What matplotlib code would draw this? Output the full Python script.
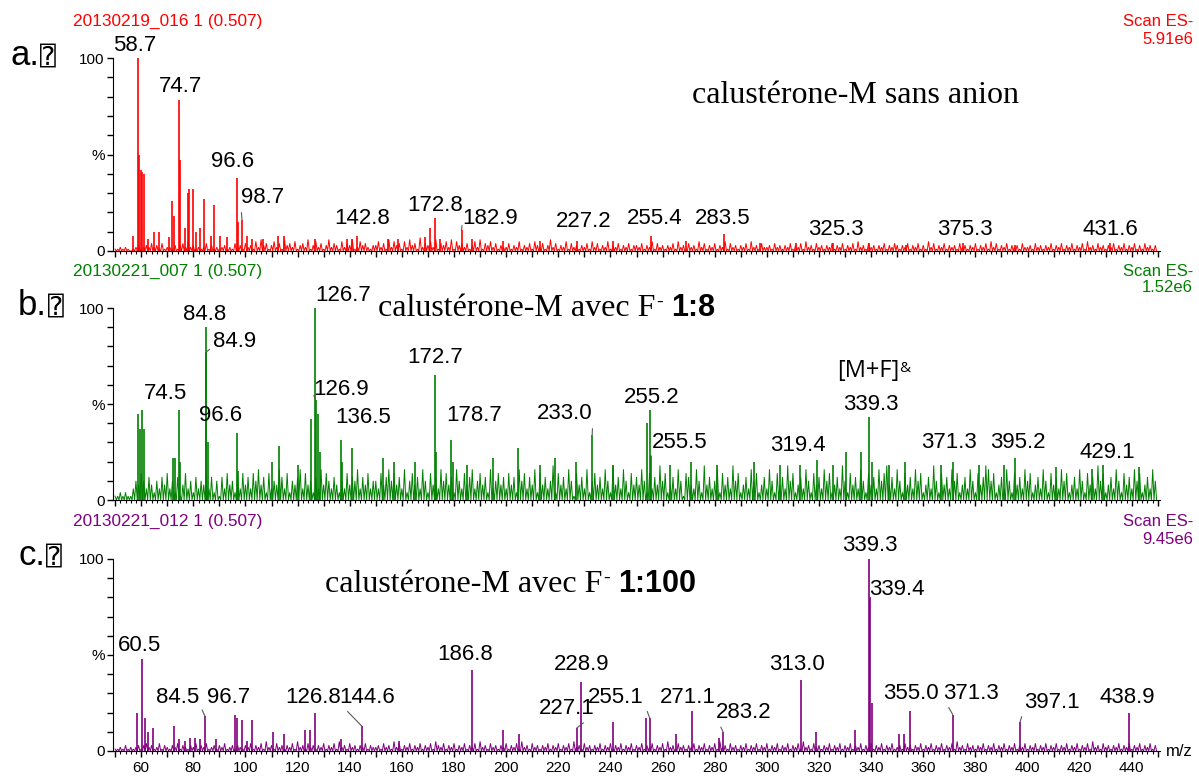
import numpy as np
import matplotlib.pyplot as plt
from matplotlib.ticker import MultipleLocator, FuncFormatter

W, H = 1199, 776

# ---- data ----
headers = ["20130219_016 1 (0.507)", "20130221_007 1 (0.507)", "20130221_012 1 (0.507)"]
scan_tic = ["5.91e6", "1.52e6", "9.45e6"]
tags = ["a.", "b.", "c."]
colors = ["#ff0000", "#008000", "#800080"]

# background noise, one digit per m/z unit (50 ... 449), multiplied by noise_scale (%)
noise_a = ("11212101231232423141221313425231212413121231214231"
           "42315263413524163425134261352413624315243612534213"
           "35241625341526341724352614352615342413526143524132"
           "24132513241532413624132514231324152413251324132413"
           "32413251423132415231423152413241325142313241523142"
           "23142313241324152314231324132413241523142313241324"
           "31324132413152413241323142313241324152413241323142"
           "23142313241324132413241523142313241324132413142313")
noise_b = ("11212113547536425364735261473526354736251637452637"
           "46375846273548637254683745263847536425374658364735"
           "53746857463825746385274638574628537468357462835746"
           "37462857364827463592746385174638257463852946385274"
           "64852736495724638517643852946358274639572463857246"
           "38527463957246385274638572463952746385274638579463"
           "85274638572463952746385724638527469857246385274638"
           "57246385274638572463852746395724638527463857246385")
noise_c = ("11213121231342312413213241321324132412313241231321"
           "32413241523142313241523142313241324152314231324132"
           "23142315241324132413241532413241324132415231423132"
           "41324152314231324132413241523142313241324132413241"
           "32413241324152314231324132413241523142313241324132"
           "41324132413241523142313241324132413241324132413241"
           "23142313241324132413241523142313241324132413241324"
           "13241324132413241324132415231423132413241324132413")
noise_scale = [1, 2, 1]

peaks_a_mz = [56.9, 58.7, 59.1, 60.0, 60.5, 61.2, 62.7, 64.8, 67.0, 70.8, 72.0, 72.6,
              74.7, 75.0, 76.7, 77.9, 78.4, 80.0, 81.0, 82.7, 84.2, 86.6, 88.1, 90.4,
              92.8, 96.6, 97.0, 98.7, 100.5, 102.7, 106.6, 112.6, 114.8, 126.8, 138.9,
              140.7, 142.8, 154.8, 158.7, 168.9, 170.9, 172.8, 174.6, 182.9, 186.9,
              198.8, 212.9, 227.2, 241.1, 255.4, 269.1, 283.5, 297.3, 311.2, 325.3,
              339.3, 353.2, 375.3, 395.2, 431.6]
peaks_a_int = [8, 100, 50, 42, 41, 40, 6, 10, 10, 7, 26, 18,
               78, 47, 12, 30, 32, 32, 10, 12, 27, 8, 24, 8,
               7, 38, 15, 16, 8, 6, 6, 8, 8, 6, 6,
               6, 8, 6, 6, 7, 12, 17, 6, 11, 6,
               5, 5, 5, 5, 8, 5, 9, 4, 4, 4,
               4, 3, 4, 3, 4]

peaks_b_mz = [58.6, 59.4, 60.3, 61.0, 72.4, 72.9, 74.5, 75.0, 84.8, 84.9, 85.5, 96.6,
              97.2, 110.0, 112.7, 120.0, 125.0, 126.7, 126.9, 127.7, 128.6, 136.5,
              137.2, 140.9, 152.6, 156.8, 164.9, 172.7, 173.2, 178.7, 179.5, 184.9,
              194.9, 204.7, 212.8, 218.8, 226.9, 233.0, 240.9, 253.9, 255.2, 255.5,
              262.9, 270.8, 280.9, 295.1, 304.9, 312.8, 319.4, 325.2, 330.5, 336.2,
              339.3, 340.3, 347.0, 353.1, 366.9, 371.3, 381.2, 391.0, 395.2, 410.8,
              424.9, 429.1, 442.7]
peaks_b_int = [45, 37, 47, 37, 22, 22, 47, 20, 90, 77, 30, 35,
               15, 20, 28, 18, 42, 100, 52, 45, 25, 31,
               20, 27, 22, 20, 20, 65, 25, 31, 20, 18,
               22, 27, 18, 22, 20, 34, 18, 40, 47, 23,
               18, 20, 18, 20, 18, 18, 21, 18, 25, 25,
               43, 20, 18, 20, 18, 20, 18, 18, 22, 17,
               16, 18, 17]

peaks_c_mz = [58.5, 60.5, 61.3, 62.8, 64.6, 72.6, 74.5, 76.7, 78.7, 80.6, 82.7, 84.5,
              88.7, 96.0, 96.7, 98.6, 100.7, 102.7, 110.6, 114.7, 122.7, 124.8, 126.8,
              136.7, 144.6, 158.8, 186.8, 198.7, 205.0, 227.1, 228.9, 241.0, 253.5,
              255.1, 265.0, 271.1, 281.8, 283.2, 313.0, 319.0, 333.8, 339.3, 339.4,
              340.3, 350.7, 352.6, 355.0, 371.3, 397.1, 438.9]
peaks_c_int = [20, 48, 17, 10, 12, 13, 6, 5, 7, 7, 6, 18,
               6, 19, 17, 16, 5, 16, 10, 9, 11, 11, 20,
               6, 13, 5, 42, 11, 9, 12, 36, 15, 17,
               17, 9, 21, 7, 10, 37, 10, 11, 100, 80,
               25, 9, 9, 21, 19, 15, 20]

labels_a = ["58.7", "74.7", "96.6", "98.7", "142.8", "172.8", "182.9", "227.2",
            "255.4", "283.5", "325.3", "375.3", "431.6"]
labels_b = ["74.5", "84.8", "84.9", "96.6", "126.7", "126.9", "136.5", "172.7",
            "178.7", "233.0", "255.2", "255.5", "319.4", "339.3", "371.3", "395.2", "429.1"]
labels_c = ["60.5", "84.5", "96.7", "126.8", "144.6", "186.8", "227.1", "228.9",
            "255.1", "271.1", "283.2", "313.0", "339.3", "339.4", "355.0", "371.3",
            "397.1", "438.9"]

# ---- layout ----
# label centre (m/z, %) and whether a leader line is drawn to the peak
lab_pos_a = [(57.7, 106.7, 0), (74.9, 85, 0), (94.9, 46.6, 0), (106.4, 27.5, 1),
             (144.7, 16.6, 0), (172.7, 23.8, 0), (193.8, 16.6, 1), (229.9, 15.5, 0),
             (257.1, 16.6, 0), (283.2, 16.6, 0), (326.6, 10.9, 0), (376.0, 10.9, 0),
             (431.7, 10.9, 0)]
lab_pos_b = [(69.2, 55.7, 0), (84.5, 96.4, 0), (96.0, 82.8, 1), (90.3, 43.8, 0),
             (137.5, 106.5, 0), (136.7, 57.8, 1), (145.1, 43.2, 0), (172.7, 74.0, 0),
             (187.7, 43.8, 0), (222.6, 44.8, 1), (256.0, 53.6, 0), (266.7, 30.2, 1),
             (312.0, 28.6, 0), (340.0, 50.0, 0), (369.9, 29.7, 0), (396.4, 29.7, 0),
             (430.5, 25.0, 0)]
lab_pos_c = [(59.5, 55.0, 0), (73.8, 28.0, 1), (93.7, 28.0, 0), (126.0, 28.0, 0),
             (146.5, 28.0, 1), (184.2, 50.0, 0), (223.4, 22.0, 1), (229.1, 44.8, 0),
             (242.2, 28.0, 1), (269.8, 28.0, 0), (291.3, 20.0, 1), (311.6, 44.8, 0),
             (339.6, 106.8, 0), (350.0, 83.9, 1), (355.4, 30.2, 0), (378.4, 30.2, 1),
             (409.5, 25.5, 1), (438.2, 28.0, 0)]

rows = [(58, 251), (308, 500), (559, 751)]   # pixel rows of 100 % and 0 %
head_y = [(21, 22, 40), (271, 271, 288), (521, 521, 540)]
tag_xy = [(10, 65), (18, 315), (18, 565)]

noises = [noise_a, noise_b, noise_c]
peaks = [(peaks_a_mz, peaks_a_int), (peaks_b_mz, peaks_b_int), (peaks_c_mz, peaks_c_int)]
labels = [(labels_a, lab_pos_a), (labels_b, lab_pos_b), (labels_c, lab_pos_c)]

sans = 'Liberation Sans'
fig = plt.figure(figsize=(W / 100, H / 100), dpi=100)
renderer = fig.canvas.get_renderer()


def chain(x, y, pieces):
    # write text pieces one after the other on a common baseline (pixels from top-left)
    for s, gap, rise, kw in pieces:
        x += gap
        t = fig.text(x / W, 1 - (y - rise) / H, s, ha='left', va='baseline', **kw)
        x += t.get_window_extent(renderer).width


for i in range(3):
    y100, y0 = rows[i]
    col = colors[i]
    ax = fig.add_axes([113 / W, 1 - y0 / H, 1047 / W, (y0 - y100) / H])
    ax.set_xlim(49.2, 450.8)
    ax.set_ylim(0, 100)
    for s in ['top', 'right']:
        ax.spines[s].set_visible(False)
    ax.patch.set_alpha(0)

    # profile: noise grass + peaks
    vals = np.array([int(c) for c in noises[i]]) * noise_scale[i]
    mz = np.arange(50, 50 + len(vals))
    xs = np.empty(2 * len(vals))
    ys = np.zeros(2 * len(vals))
    xs[0::2] = mz
    xs[1::2] = mz + 0.5
    ys[0::2] = vals
    ax.plot(xs, ys, color=col, lw=0.7, solid_joinstyle='miter')
    pm, pi = peaks[i]
    ax.vlines(pm, 0, pi, color=col, lw=1.2)

    # ticks
    ax.set_yticks([0, 50, 100])
    ax.set_yticklabels(['0', '%', '100'])
    ax.yaxis.set_minor_locator(MultipleLocator(10))
    ax.xaxis.set_major_locator(MultipleLocator(10))
    ax.xaxis.set_minor_locator(MultipleLocator(2))
    ax.tick_params(axis='y', which='both', length=4, width=1, pad=2, labelsize=11)
    ax.tick_params(axis='x', which='major', length=4, width=1, pad=3, labelsize=11)
    ax.tick_params(axis='x', which='minor', length=2.5, width=0.8)
    for lab in ax.get_yticklabels() + ax.get_xticklabels():
        lab.set_family(sans)
    if i == 2:
        ax.xaxis.set_major_formatter(FuncFormatter(
            lambda v, p: '%d' % v if round(v) % 20 == 0 and 50 < v < 450 else ''))
    else:
        ax.set_xticklabels([])

    # peak labels
    texts, pos = labels[i]
    for txt, (lx, ly, lead) in zip(texts, pos):
        v = float(txt)
        k = int(np.argmin(np.abs(np.array(pm) - v)))
        if lead:
            rel = (1.0, 0.25) if lx < pm[k] else (0.0, 0.25)
            ax.annotate(txt, xy=(pm[k], pi[k]), xytext=(lx, ly), ha='center', va='center',
                        family=sans, fontsize=16, annotation_clip=False,
                        arrowprops=dict(arrowstyle='-', color='0.35', lw=0.8,
                                        shrinkA=1, shrinkB=0, relpos=rel))
        else:
            ax.text(lx, ly, txt, ha='center', va='center', family=sans, fontsize=16,
                    clip_on=False)

    if i == 1:
        t = ax.text(338.8, 67, '[M+F]', ha='center', va='center', family='Open Sans',
                    fontsize=17, clip_on=False)
        ax.annotate('&', xy=(1.0, 0.95), xycoords=t, ha='left', va='top',
                    family='Open Sans', fontsize=11)

    # headers
    hy, sy1, sy2 = head_y[i]
    fig.text(73 / W, 1 - hy / H, headers[i], color=col, family=sans, fontsize=12.4,
             ha='left', va='center')
    fig.text(1193 / W, 1 - sy1 / H, 'Scan ES-', color=col, family=sans, fontsize=12,
             ha='right', va='center')
    fig.text(1193 / W, 1 - sy2 / H, scan_tic[i], color=col, family=sans, fontsize=12,
             ha='right', va='center')
    tx, ty = tag_xy[i]
    chain(tx, ty, [(tags[i], 0, 0, dict(family=sans, fontsize=25)),
                   ('\u2370', 1, 0, dict(family=['DejaVu Sans Mono', 'DejaVu Sans'],
                                         fontsize=19))])

serif = dict(family='Liberation Serif', fontsize=23)
bold = dict(family=sans, fontsize=22, fontweight='bold')
fig.text(855 / W, 1 - 103 / H, 'calustérone-M sans anion', ha='center', va='baseline', **serif)
chain(378, 316, [('calustérone-M avec F', 0, 0, serif),
                 ('-', 1, 9, dict(family='Liberation Serif', fontsize=14)),
                 ('1:8', 8, 0, bold)])
chain(325, 592, [('calustérone-M avec F', 0, 0, serif),
                 ('-', 1, 9, dict(family='Liberation Serif', fontsize=14)),
                 ('1:100', 8, 0, bold)])
fig.text(1166 / W, 1 - 752 / H, 'm/z', family=sans, fontsize=12, ha='left', va='center')

fig.savefig('out.png', dpi=100)
